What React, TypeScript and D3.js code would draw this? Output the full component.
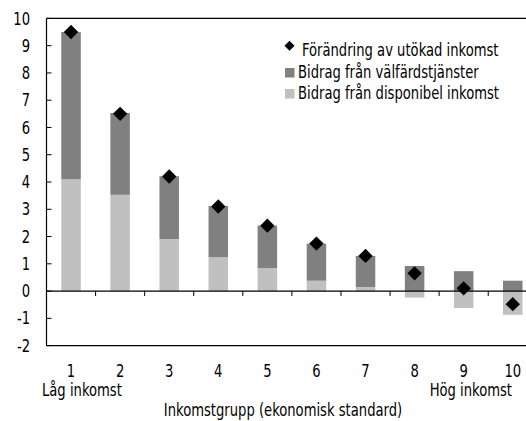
import React from "react";
import * as d3 from "d3";

const categories = ["1", "2", "3", "4", "5", "6", "7", "8", "9", "10"];
const welfare = [5.4, 3.0, 2.3, 1.88, 1.56, 1.36, 1.14, 0.92, 0.73, 0.38];
const disposable = [4.1, 3.53, 1.91, 1.24, 0.84, 0.38, 0.15, -0.24, -0.62, -0.87];
const total = [9.5, 6.5, 4.2, 3.1, 2.4, 1.74, 1.29, 0.65, 0.1, -0.48];
const yTicks = [-2, -1, 0, 1, 2, 3, 4, 5, 6, 7, 8, 9, 10];

const W = 526;
const H = 421;
const FONT = "'DejaVu Sans Condensed', 'DejaVu Sans', sans-serif";
const DARK = "#808080";
const LIGHT = "#c0c0c0";
const SX = 0.86;
const FS = 17;

function T({
  x,
  y,
  anchor = "start",
  dy,
  children,
}: {
  x: number;
  y: number;
  anchor?: "start" | "middle" | "end";
  dy?: string;
  children: React.ReactNode;
}) {
  return (
    <g transform={`translate(${x},${y}) scale(${SX},1)`}>
      <text x={0} y={0} dy={dy} textAnchor={anchor} fontSize={FS} fill="#000">
        {children}
      </text>
    </g>
  );
}

export default function App() {
  const left = 46.5;
  const step = 49.08;
  const x = d3
    .scaleBand<string>()
    .domain(categories)
    .range([left, left + step * categories.length])
    .paddingInner(0)
    .paddingOuter(0);
  const y = d3.scaleLinear().domain([-2, 10]).range([345.6, 18.4]);
  const bw = 19.5;

  const sq = (cx: number, cy: number, s: number) => `M${cx - s},${cy}l${s},${-s}l${s},${s}l${-s},${s}z`;

  return (
    <svg
      width={W}
      height={H}
      style={{ position: "absolute", left: 0, top: 0, display: "block" }}
      fontFamily={FONT}
    >
      <rect width={W} height={H} fill="#fff" />
      {categories.map((c, i) => {
        const cx = (x(c) ?? 0) + x.bandwidth() / 2;
        const d = disposable[i];
        const wv = welfare[i];
        const lightY0 = Math.min(0, d);
        const lightY1 = Math.max(0, d);
        const darkBase = d > 0 ? d : 0;
        return (
          <g key={c}>
            <rect x={cx - bw / 2} width={bw} y={y(lightY1)} height={y(lightY0) - y(lightY1)} fill={LIGHT} />
            <rect
              x={cx - bw / 2}
              width={bw}
              y={y(darkBase + wv)}
              height={y(darkBase) - y(darkBase + wv)}
              fill={DARK}
            />
          </g>
        );
      })}
      <line x1={left} x2={W} y1={y(10)} y2={y(10)} stroke="#000" strokeWidth={1.2} />
      <line x1={left} x2={W} y1={y(-2)} y2={y(-2)} stroke="#000" strokeWidth={1.2} />
      <line x1={left} x2={left} y1={y(10)} y2={y(-2)} stroke="#000" strokeWidth={1.2} />
      <line x1={left} x2={W} y1={y(0)} y2={y(0)} stroke="#000" strokeWidth={1.2} />
      {categories.slice(1).map((c) => (
        <line key={"xt" + c} x1={x(c)} x2={x(c)} y1={y(0)} y2={y(0) + 5} stroke="#000" strokeWidth={1} />
      ))}
      {yTicks.map((t) => (
        <g key={"yt" + t}>
          <line x1={left} x2={left + 5} y1={y(t)} y2={y(t)} stroke="#000" strokeWidth={1} />
          <T x={30} y={y(t)} dy="0.36em" anchor="end">
            {t}
          </T>
        </g>
      ))}
      {categories.map((c, i) => {
        const cx = (x(c) ?? 0) + x.bandwidth() / 2;
        return <path key={"d" + c} d={sq(cx, y(total[i]), 7.2)} fill="#000" />;
      })}
      {categories.map((c) => (
        <T key={"xl" + c} x={(x(c) ?? 0) + x.bandwidth() / 2} y={377} anchor="middle">
          {c}
        </T>
      ))}
      <T x={42} y={396}>Låg inkomst</T>
      <T x={512} y={396} anchor="end">Hög inkomst</T>
      <T x={283} y={416} anchor="middle">Inkomstgrupp (ekonomisk standard)</T>
      <path d={sq(289.5, 45.7, 5)} fill="#000" />
      <T x={302} y={56}>Förändring av utökad inkomst</T>
      <rect x={285} y={68} width={9.5} height={9.5} fill={DARK} />
      <T x={298} y={77.5}>Bidrag från välfärdstjänster</T>
      <rect x={285} y={89} width={9.5} height={9.5} fill={LIGHT} />
      <T x={298} y={98.5}>Bidrag från disponibel inkomst</T>
    </svg>
  );
}
